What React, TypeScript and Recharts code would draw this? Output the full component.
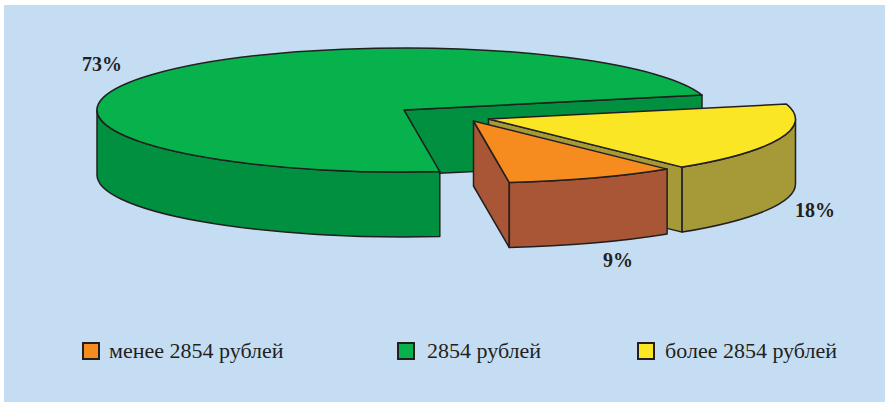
import { Legend, Pie, PieChart } from "recharts";

const categories = ["2854 рублей", "более 2854 рублей", "менее 2854 рублей"];
const shares = [73, 18, 9];
const legendOrder = ["менее 2854 рублей", "2854 рублей", "более 2854 рублей"];

const topColors = ["#07B14B", "#FBE625", "#F68C1F"];
const wallColors = ["#00903F", "#A59938", "#A85635"];
const legendLeft = [82, 397, 637];
const legendTextLeft = [109, 427, 665];

// how far each slice is pulled out of the pie
const sliceShift = [
  { x: 0, y: 0 },
  { x: 84.5, y: 9 },
  { x: 69.5, y: 11 },
];
const labelSpots = [
  { x: 102, y: 71 },
  { x: 815, y: 217 },
  { x: 618, y: 267 },
];

const WIDTH = 885;
const HEIGHT = 402;
const CX = 404;
const CY = 110;
const RX = 307;
const RY = 62;
const DEPTH = 65;
const INK = "#231F20";

const data = categories.map((name, i) => ({ name, value: shares[i], fill: topColors[i] }));

// Recharts hands over a flat circular sector, it gets squashed into a tilted disc here
function rimPoint(cx: number, cy: number, deg: number) {
  const a = (deg * Math.PI) / 180;
  return { x: cx + RX * Math.cos(a), y: cy - RY * Math.sin(a) };
}

function arcPath(cx: number, cy: number, from: number, to: number, drop = 0) {
  const a = rimPoint(cx, cy + drop, from);
  const b = rimPoint(cx, cy + drop, to);
  const large = Math.abs(to - from) > 180 ? 1 : 0;
  const sweep = to < from ? 1 : 0;
  return { a, b, d: `A ${RX} ${RY} 0 ${large} ${sweep} ${b.x} ${b.y}` };
}

// outer wall: only the front half of the rim can be seen
function outerWall(cx: number, cy: number, hi: number, lo: number) {
  // angles keep falling past -360 around the pie, so try both turns
  const ranges: [number, number][] = [];
  for (const k of [0, 360]) {
    const from = Math.min(hi + k, 0);
    const to = Math.max(lo + k, -180);
    if (from > to) ranges.push([from, to]);
  }
  return ranges.map(([from, to]) => {
    const top = arcPath(cx, cy, from, to);
    const bottom = arcPath(cx, cy, to, from, DEPTH);
    return `M ${top.a.x} ${top.a.y} ${top.d} L ${bottom.a.x} ${bottom.a.y} ${bottom.d} Z`;
  });
}

function radialWall(cx: number, cy: number, deg: number) {
  const p = rimPoint(cx, cy, deg);
  return `M ${cx} ${cy} L ${p.x} ${p.y} L ${p.x} ${p.y + DEPTH} L ${cx} ${cy + DEPTH} Z`;
}

function Slice3D(props: any) {
  const { startAngle, endAngle, index } = props;
  const cx = props.cx + sliceShift[index].x;
  const cy = props.cy + sliceShift[index].y;
  const wall = wallColors[index];
  const top = arcPath(cx, cy, startAngle, endAngle);
  const line = { stroke: INK, strokeWidth: 1.5, strokeLinejoin: "round" as const };

  return (
    <g>
      {/* going clockwise, the closing cut face is the one turned to the viewer */}
      <path d={radialWall(cx, cy, endAngle)} fill={wall} {...line} />
      {outerWall(cx, cy, startAngle, endAngle).map((d) => (
        <path key={d} d={d} fill={wall} {...line} />
      ))}
      <path d={`M ${cx} ${cy} L ${top.a.x} ${top.a.y} ${top.d} Z`} fill={props.fill} {...line} />
    </g>
  );
}

function ShareLabel(props: any) {
  const spot = labelSpots[props.index];
  return (
    <text x={spot.x} y={spot.y} textAnchor="middle" fontFamily="Liberation Serif" fontWeight="bold" fontSize={20} fill={INK}>
      {props.value}%
    </text>
  );
}

function LegendRow() {
  return (
    <div style={{ position: "relative", width: WIDTH, height: 26 }}>
      {legendOrder.map((name, i) => (
        <div key={name}>
          <span
            style={{
              position: "absolute",
              left: legendLeft[i],
              top: 3,
              width: 14,
              height: 14,
              border: `2px solid ${INK}`,
              background: topColors[categories.indexOf(name)],
            }}
          />
          <span
            style={{
              position: "absolute",
              left: legendTextLeft[i],
              top: 0,
              fontFamily: "Liberation Serif",
              fontSize: 22,
              lineHeight: "24px",
              whiteSpace: "nowrap",
              color: INK,
            }}
          >
            {name}
          </span>
        </div>
      ))}
    </div>
  );
}

export default function App() {
  return (
    <div style={{ position: "relative", width: WIDTH, height: HEIGHT, background: "#fff" }}>
      <style>{`body{margin:0}`}</style>
      <div style={{ position: "absolute", left: 4, top: 5, right: 0, bottom: 0, background: "#C5DDF3" }} />
      <PieChart
        width={WIDTH}
        height={HEIGHT}
        margin={{ top: 0, right: 0, bottom: 0, left: 0 }}
        style={{ position: "absolute", left: 0, top: 0 }}
      >
        <Pie
          data={data}
          dataKey="value"
          nameKey="name"
          cx={CX}
          cy={CY}
          outerRadius={RX}
          startAngle={-83.3}
          endAngle={-443.3}
          isAnimationActive={false}
          stroke="none"
          shape={Slice3D}
          label={ShareLabel}
          labelLine={false}
        />
        <Legend content={LegendRow} wrapperStyle={{ position: "absolute", left: 0, top: 339, width: WIDTH, bottom: "auto" }} />
      </PieChart>
    </div>
  );
}
